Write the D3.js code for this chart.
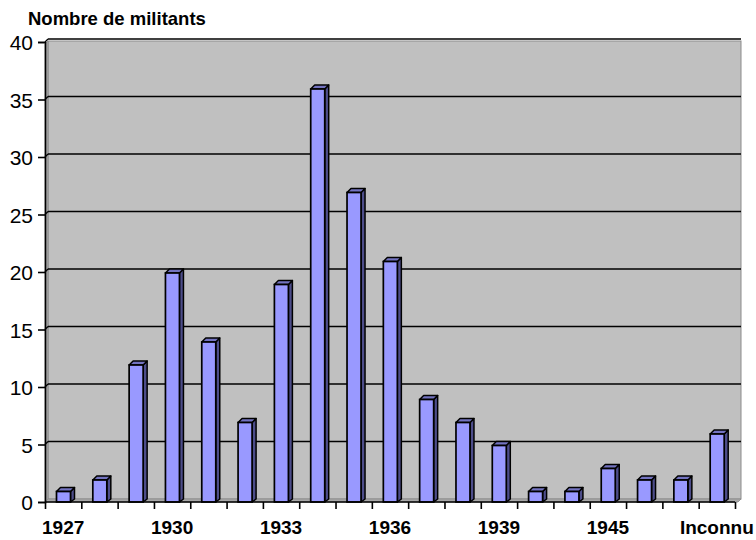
<!DOCTYPE html>
<html><head><meta charset="utf-8">
<script src="https://cdn.jsdelivr.net/npm/d3@7"></script>
<style>body{margin:0;background:#fff}svg{display:block;font-family:Arial,"Liberation Sans",sans-serif}</style>
</head><body><svg id="c" width="756" height="540"></svg>
<script>
const categories = ["1927","1928","1929","1930","1931","1932","1933","1934","1935","1936","1937","1938","1939","1940","1943","1945","1946","1947","Inconnu"];
const values = [1,2,12,20,14,7,19,36,27,21,9,7,5,1,1,3,2,2,6];
const shownLabels = ["1927","1930","1933","1936","1939","1945","Inconnu"];
const yTicks = [0,5,10,15,20,25,30,35,40];
const yTitle = "Nombre de militants";

const svg = d3.select("#c");
const x = d3.scaleBand().domain(categories).range([45, 735]).padding(0);
const y = d3.scaleLinear().domain([0, 40]).range([502, 42]);
const dx = 3, dy = 3;
const pLeft = 45, pRight = 738, pBottom = 502, pTop = 44;

// back wall
svg.append("rect").attr("x", pLeft+dx).attr("y", pTop-dy).attr("width", pRight-pLeft).attr("height", pBottom-pTop)
  .attr("fill", "#C0C0C0").attr("stroke", "#8c8c8c").attr("stroke-width", 1);
// side wall
svg.append("polygon").attr("points", `${pLeft},${pTop} ${pLeft+dx},${pTop-dy} ${pLeft+dx},${pBottom-dy} ${pLeft},${pBottom}`)
  .attr("fill", "#a8a8a8").attr("stroke", "#8c8c8c").attr("stroke-width", 0.8);
// floor
svg.append("polygon").attr("points", `${pLeft},${pBottom} ${pLeft+dx},${pBottom-dy} ${pRight+dx},${pBottom-dy} ${pRight},${pBottom}`)
  .attr("fill", "#a8a8a8").attr("stroke", "#8c8c8c").attr("stroke-width", 0.8);

// gridlines
const grid = svg.append("g");
yTicks.filter(t => t > 0).forEach(t => {
  grid.append("line").attr("x1", pLeft+dx).attr("x2", pRight+dx).attr("y1", y(t)-dy).attr("y2", y(t)-dy)
    .attr("stroke", "#000").attr("stroke-width", 1.6);
  grid.append("line").attr("x1", pLeft).attr("x2", pLeft+dx).attr("y1", y(t)).attr("y2", y(t)-dy)
    .attr("stroke", "#000").attr("stroke-width", 1.2);
});

// bars
const bw = 14, off = 11.5;
const bars = svg.append("g").selectAll("g").data(values).join("g");
bars.each(function(v, i) {
  const g = d3.select(this);
  const x0 = x(categories[i]) + off, x1 = x0 + bw;
  const yt = y(v) + 1, yb = pBottom;
  g.append("polygon").attr("points", `${x1},${yt} ${x1+4},${yt-4} ${x1+4},${yb-3} ${x1},${yb}`)
    .attr("fill", "#4d4d8a").attr("stroke", "#000").attr("stroke-width", 1.5).attr("stroke-linejoin", "round");
  g.append("polygon").attr("points", `${x0},${yt} ${x0+4},${yt-4} ${x1+4},${yt-4} ${x1},${yt}`)
    .attr("fill", "#7373c0").attr("stroke", "#000").attr("stroke-width", 1.5).attr("stroke-linejoin", "round");
  g.append("rect").attr("x", x0).attr("y", yt).attr("width", bw).attr("height", yb - yt)
    .attr("fill", "#9999FF").attr("stroke", "#000").attr("stroke-width", 1.7);
});

// y axis
const yAxis = svg.append("g").attr("transform", `translate(${pLeft},0)`)
  .call(d3.axisLeft(y).tickValues(yTicks).tickSize(7).tickPadding(5));
yAxis.select(".domain").attr("stroke", "#000").attr("stroke-width", 1.6);
yAxis.selectAll(".tick line").attr("stroke", "#000").attr("stroke-width", 1.6);
yAxis.selectAll(".tick text").attr("font-size", 21).attr("fill", "#000")
  .attr("font-family", "Arial, 'Liberation Sans', sans-serif").attr("dy", "0.36em");

// x axis
const xi = d3.scaleLinear().domain([0, categories.length]).range([45, 735]);
const xAxis = svg.append("g").attr("transform", `translate(0,${pBottom})`)
  .call(d3.axisBottom(xi).tickValues(d3.range(0, categories.length + 1)).tickSize(7).tickFormat(""));
xAxis.select(".domain").attr("stroke", "#000").attr("stroke-width", 1.6).attr("d", `M45,0H735`);
xAxis.selectAll(".tick line").attr("stroke", "#000").attr("stroke-width", 1.6);
svg.append("g").selectAll("text").data(categories.filter(c => shownLabels.includes(c))).join("text")
  .attr("x", d => x(d) + x.bandwidth()/2).attr("y", 534).attr("text-anchor", "middle")
  .attr("font-size", 19).attr("font-weight", "bold").attr("fill", "#000").text(d => d);

// title
svg.append("text").attr("x", 28).attr("y", 25).attr("font-size", 18.5).attr("font-weight", "bold")
  .attr("fill", "#000").text(yTitle);
</script></body></html>
